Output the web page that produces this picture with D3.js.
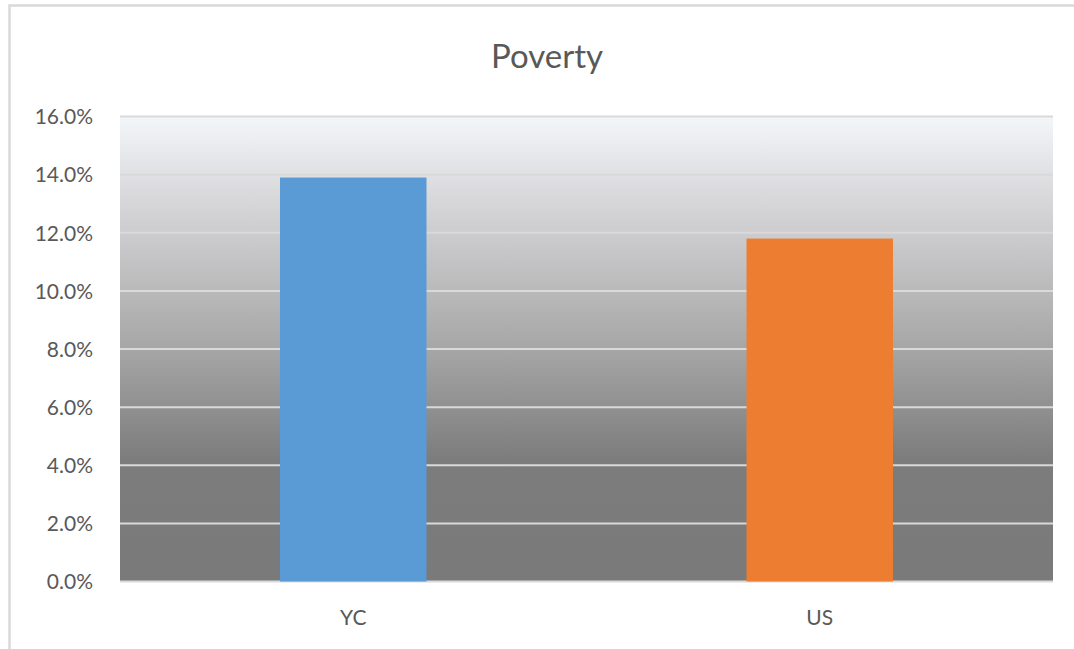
<!DOCTYPE html>
<html>
<head>
<meta charset="utf-8">
<script src="https://cdn.jsdelivr.net/npm/d3@7"></script>
<style>
  body { margin: 0; background: #fff; }
  svg { display: block; font-family: Lato, "Open Sans", sans-serif; }
</style>
</head>
<body>
<div id="chart"></div>
<script>
const categories = ['YC', 'US'];
const values = [0.139, 0.118];
const barColors = ['#5b9bd5', '#ed7d31'];
const yTicks = [0, 0.02, 0.04, 0.06, 0.08, 0.10, 0.12, 0.14, 0.16];

const width = 1074;
const height = 649;
const margin = {top: 116.5, right: 21, bottom: 67.5, left: 120};

const svg = d3.select('#chart')
  .append('svg')
  .attr('width', width)
  .attr('height', height);

// chart frame
svg.append('rect')
  .attr('x', 9.5).attr('y', 5.5)
  .attr('width', width + 20).attr('height', height + 20)
  .attr('fill', '#fff')
  .attr('stroke', '#d9d9d9')
  .attr('stroke-width', 2.5);

const x = d3.scaleBand()
  .domain(categories)
  .range([margin.left, width - margin.right])
  .paddingInner(0.686)
  .paddingOuter(0.343);

const y = d3.scaleLinear()
  .domain([0, 0.16])
  .range([height - margin.bottom, margin.top]);

// plot background gradient
const grad = svg.append('defs').append('linearGradient')
  .attr('id', 'bg').attr('x1', 0).attr('y1', 0).attr('x2', 0).attr('y2', 1);
grad.append('stop').attr('offset', '0%').attr('stop-color', '#f3f6f9');
grad.append('stop').attr('offset', '15%').attr('stop-color', '#dcdcdf');
grad.append('stop').attr('offset', '50%').attr('stop-color', '#a6a6a6');
grad.append('stop').attr('offset', '74%').attr('stop-color', '#7c7c7c');
grad.append('stop').attr('offset', '100%').attr('stop-color', '#7a7a7a');

svg.append('rect')
  .attr('x', margin.left)
  .attr('y', y(0.16))
  .attr('width', width - margin.right - margin.left)
  .attr('height', y(0) - y(0.16))
  .attr('fill', 'url(#bg)');

// gridlines
svg.append('g')
  .selectAll('line')
  .data(yTicks)
  .join('line')
  .attr('x1', margin.left)
  .attr('x2', width - margin.right)
  .attr('y1', d => y(d))
  .attr('y2', d => y(d))
  .attr('stroke', '#d9d9d9')
  .attr('stroke-width', 2);

// bars
svg.append('g')
  .selectAll('rect')
  .data(categories)
  .join('rect')
  .attr('x', d => x(d))
  .attr('y', (d, i) => y(values[i]))
  .attr('width', x.bandwidth())
  .attr('height', (d, i) => y(0) - y(values[i]))
  .attr('fill', (d, i) => barColors[i]);

// y axis labels
const yAxis = svg.append('g')
  .attr('transform', `translate(${margin.left - 24},0)`)
  .call(d3.axisLeft(y).tickValues(yTicks).tickFormat(d3.format('.1%')).tickSize(0))
  .attr('font-family', 'Lato, "Open Sans", sans-serif');
yAxis.select('.domain').remove();
yAxis.selectAll('text')
  .attr('fill', '#595959')
  .attr('font-size', 21)
  .attr('dx', 0)
  .attr('dy', '0.35em');

// x axis labels
const xAxis = svg.append('g')
  .attr('transform', `translate(0,${height - margin.bottom})`)
  .call(d3.axisBottom(x).tickSize(0))
  .attr('font-family', 'Lato, "Open Sans", sans-serif');
xAxis.select('.domain').remove();
xAxis.selectAll('text')
  .attr('fill', '#595959')
  .attr('font-size', 21)
  .attr('dy', 0)
  .attr('y', 43);

// title
svg.append('text')
  .attr('x', 547)
  .attr('y', 68)
  .attr('text-anchor', 'middle')
  .attr('fill', '#595959')
  .attr('font-size', 33)
  .text('Poverty');
</script>
</body>
</html>
